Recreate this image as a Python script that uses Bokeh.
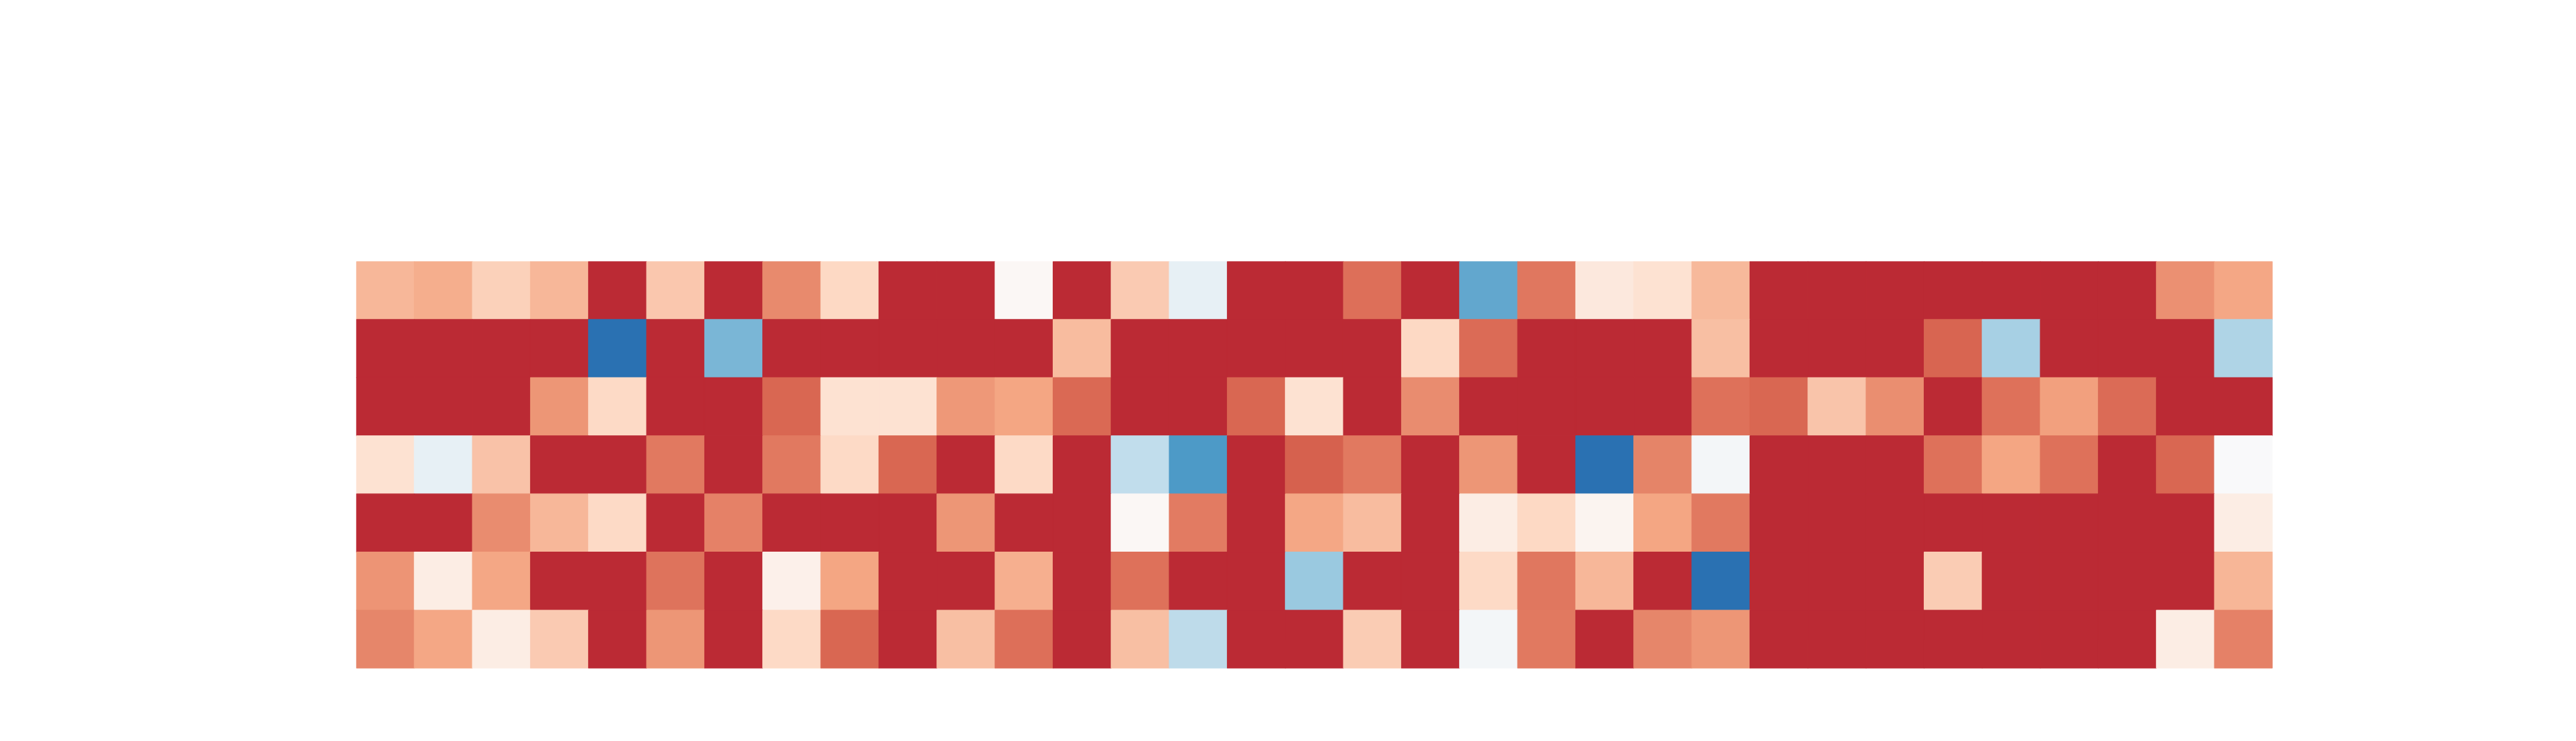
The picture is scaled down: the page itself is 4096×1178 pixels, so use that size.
import numpy as np
from bokeh.plotting import figure
from bokeh.models import ColumnDataSource, LinearColorMapper, Range1d
from bokeh.transform import transform
from bokeh.embed import file_html
from bokeh.resources import INLINE

R = 1.0  # saturated (clipped) cells

row0 = [0.44, 0.49, 0.32, 0.44, R, 0.36, R, 0.64, 0.28, R, R,
        0.03, R, 0.35, -0.13, R, R, 0.74, R, -0.69, 0.71, 0.15,
        0.21, 0.43, R, R, R, R, R, R, R, 0.61, 0.52]
row1 = [R, R, R, R, -1.0, R, -0.61, R, R, R, R,
        R, 0.42, R, R, R, R, R, 0.28, 0.75, R, R,
        R, 0.40, R, R, R, 0.78, -0.44, R, R, R, -0.41]
row2 = [R, R, R, 0.59, 0.27, R, R, 0.77, 0.21, 0.21, 0.58,
        0.53, 0.76, R, R, 0.77, 0.21, R, 0.63, R, R, R,
        R, 0.73, 0.77, 0.38, 0.62, R, 0.73, 0.55, 0.75, R, R]
row3 = [0.21, -0.13, 0.39, R, R, 0.70, R, 0.70, 0.27, 0.77, R,
        0.27, R, -0.33, -0.76, R, 0.79, 0.70, R, 0.59, R, -1.0,
        0.66, -0.05, R, R, R, 0.73, 0.53, 0.73, R, 0.77, -0.01]
row4 = [R, R, 0.63, 0.44, 0.27, R, 0.67, R, R, R, 0.59,
        R, R, 0.03, 0.69, R, 0.52, 0.42, R, 0.11, 0.28, 0.05,
        0.53, 0.70, R, R, R, R, R, R, R, R, 0.11]
row5 = [0.60, 0.11, 0.52, R, R, 0.72, R, 0.08, 0.53, R, R,
        0.48, R, 0.73, R, R, -0.50, R, R, 0.27, 0.71, 0.44,
        R, -1.0, R, R, R, 0.34, R, R, R, R, 0.45]
row6 = [0.65, 0.52, 0.11, 0.35, R, 0.59, R, 0.27, 0.77, R, 0.40,
        0.74, R, 0.40, -0.35, R, R, 0.34, R, -0.05, 0.70, R,
        0.65, 0.59, R, R, R, R, R, R, R, 0.11, 0.67]

rows = [row0, row1, row2, row3, row4, row5, row6]
n_rows = len(rows)
n_cols = len(row0)

# RdBu_r-like anchors, truncated to t in [0.125, 0.875]
anchors = ["#053061", "#2166ac", "#4393c3", "#92c5de", "#d1e5f0", "#fbfafa",
           "#fddbc7", "#f4a582", "#d6604d", "#b2182b", "#67001f"]
anc = np.array([[int(h[i:i + 2], 16) for i in (1, 3, 5)] for h in anchors], dtype=float)
pos = np.linspace(0, 1, len(anchors))
ts = np.linspace(0.125, 0.875, 256)
palette = []
for t in ts:
    rgb = [np.interp(t, pos, anc[:, k]) for k in range(3)]
    palette.append("#%02x%02x%02x" % tuple(int(round(c)) for c in rgb))

xs, ys, vals = [], [], []
for r, row in enumerate(rows):
    for c, v in enumerate(row):
        xs.append(c + 0.5)
        ys.append(n_rows - r - 0.5)
        vals.append(v)

src = ColumnDataSource(dict(x=xs, y=ys, v=vals))
mapper = LinearColorMapper(palette=palette, low=-1.0, high=1.0)

W, H = 4080, 1162
p = figure(width=W, height=H, output_backend="svg", toolbar_location=None,
           x_range=Range1d(0, n_cols), y_range=Range1d(0, n_rows),
           min_border_left=566, min_border_right=467,
           min_border_top=415, min_border_bottom=100)
p.rect(x="x", y="y", width=1, height=1, source=src,
       fill_color=transform("v", mapper), line_color=transform("v", mapper),
       line_width=1.2)
p.axis.visible = False
p.grid.visible = False
p.outline_line_color = None
p.background_fill_color = "white"
p.border_fill_color = "white"

open("out.html", "w").write(file_html(p, INLINE))
